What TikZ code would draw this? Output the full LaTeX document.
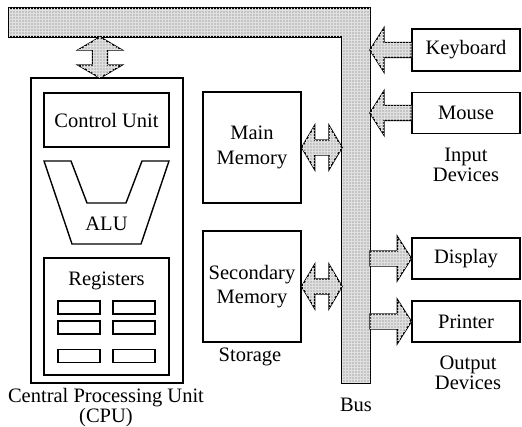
\documentclass[tikz,border=0pt]{standalone}
\usepackage{fontspec}
\setmainfont{Liberation Serif}
\usetikzlibrary{calc,patterns}
\definecolor{busgray}{RGB}{196,196,196}
\tikzset{
  box/.style={draw, line width=1.4pt, inner sep=0pt},
  regcell/.style={draw, line width=1.4pt, inner sep=0pt, minimum width=42pt, minimum height=13pt},
  busfill/.style={draw, line width=1.4pt, fill=busgray, line join=miter,
    postaction={pattern=grid, pattern color=black!12}},
  lbl/.style={align=center, inner sep=0pt},
}
% one-headed fat arrow, tip at #2
\newcommand{\fatarrow}[2]{%
  \path (#1) coordinate (fa s) (#2) coordinate (fa t)
    ($(fa t)!14pt!(fa s)$) coordinate (fa h);
  \draw[busfill] ($(fa s)!7.5pt!90:(fa t)$) -- ($(fa h)!7.5pt!90:(fa t)$)
    -- ($(fa h)!22pt!90:(fa t)$) -- (fa t) -- ($(fa h)!22pt!-90:(fa t)$)
    -- ($(fa h)!7.5pt!-90:(fa t)$) -- ($(fa s)!7.5pt!-90:(fa t)$) -- cycle;}
% two-headed fat arrow
\newcommand{\dfatarrow}[2]{%
  \path (#1) coordinate (fa s) (#2) coordinate (fa t)
    ($(fa s)!13pt!(fa t)$) coordinate (fa hs)
    ($(fa t)!13pt!(fa s)$) coordinate (fa ht);
  \draw[busfill] (fa s) -- ($(fa hs)!22pt!90:(fa t)$) -- ($(fa hs)!7.5pt!90:(fa t)$)
    -- ($(fa ht)!7.5pt!90:(fa t)$) -- ($(fa ht)!22pt!90:(fa t)$) -- (fa t)
    -- ($(fa ht)!22pt!-90:(fa t)$) -- ($(fa ht)!7.5pt!-90:(fa t)$)
    -- ($(fa hs)!7.5pt!-90:(fa t)$) -- ($(fa hs)!22pt!-90:(fa t)$) -- cycle;}
\begin{document}
\begin{tikzpicture}[x=1pt, y=-1pt, font=\fontsize{20.5}{20.5}\selectfont]
  \useasboundingbox (0,0) rectangle (522,427);
  % bus
  \coordinate (busnw) at (9,8);
  \coordinate (busne) at (370,8);
  \coordinate (busse) at (370,383);
  \coordinate (bussw) at (342,383);
  \coordinate (busin) at (342,37);
  \draw[busfill] (busnw) -- (busne) -- (busse) -- (bussw) -- (busin) -- (busnw |- busin) -- cycle;
  \node[lbl] (buslbl) at (356,405) {Bus};

  % CPU
  \node[box, minimum width=152pt, minimum height=305pt] (cpu) at (107,230.5) {};
  \node[box, minimum width=125pt, minimum height=54pt] (cu) at (106.5,120) {Control Unit};
  \coordinate (alu1) at (44,161);
  \coordinate (alu2) at (71,161);
  \coordinate (alu3) at (87,203);
  \coordinate (alu4) at (126,203);
  \coordinate (alu5) at (142,161);
  \coordinate (alu6) at (169,161);
  \coordinate (alu7) at (141,244);
  \coordinate (alu8) at (72,244);
  \draw[line width=1.4pt] (alu1) -- (alu2) -- (alu3) -- (alu4) -- (alu5) -- (alu6) -- (alu7) -- (alu8) -- cycle;
  \node[lbl] (alu) at (106.5,224) {ALU};
  \node[box, minimum width=125pt, minimum height=117pt] (reg) at (106.5,316.5) {};
  \node[lbl] (regtxt) at (106.5,281) {Registers};
  \node[regcell] (r11) at (79,307.5) {};
  \node[regcell] (r12) at (134,307.5) {};
  \node[regcell] (r21) at (79,327.5) {};
  \node[regcell] (r22) at (134,327.5) {};
  \node[regcell] (r31) at (79,356) {};
  \node[regcell] (r32) at (134,356) {};
  \node[lbl] (cpulbl) at (106,407.5) {Central Processing Unit\\(CPU)};

  % storage
  \node[box, align=center, minimum width=98pt, minimum height=111pt] (mm) at (252,147.5) {Main\\[4pt]Memory};
  \node[box, align=center, minimum width=98pt, minimum height=111pt] (sm) at (252,286.5) {Secondary\\[4pt]Memory};
  \node[lbl] (storlbl) at (250,357) {Storage};

  % devices
  \node[box, minimum width=108pt, minimum height=42pt] (kbd) at (466,50) {Keyboard};
  \node[box, minimum width=108pt, minimum height=41pt] (mouse) at (466,113) {Mouse};
  \node[lbl] (inlbl) at (466,165) {Input\\Devices};
  \node[box, minimum width=108pt, minimum height=41pt] (disp) at (466,258.5) {Display};
  \node[box, minimum width=108pt, minimum height=41pt] (prn) at (466,321.5) {Printer};
  \node[lbl] (outlbl) at (468,373) {Output\\Devices};

  % connections to the bus
  \coordinate (cpuport) at (100,78);
  \dfatarrow{cpuport}{cpuport |- busin}
  \dfatarrow{mm.east}{mm.east -| bussw}
  \dfatarrow{sm.east}{sm.east -| bussw}
  \fatarrow{kbd.west}{kbd.west -| busse}
  \fatarrow{mouse.west}{mouse.west -| busse}
  \fatarrow{disp.west -| busse}{disp.west}
  \fatarrow{prn.west -| busse}{prn.west}
\end{tikzpicture}
\end{document}
